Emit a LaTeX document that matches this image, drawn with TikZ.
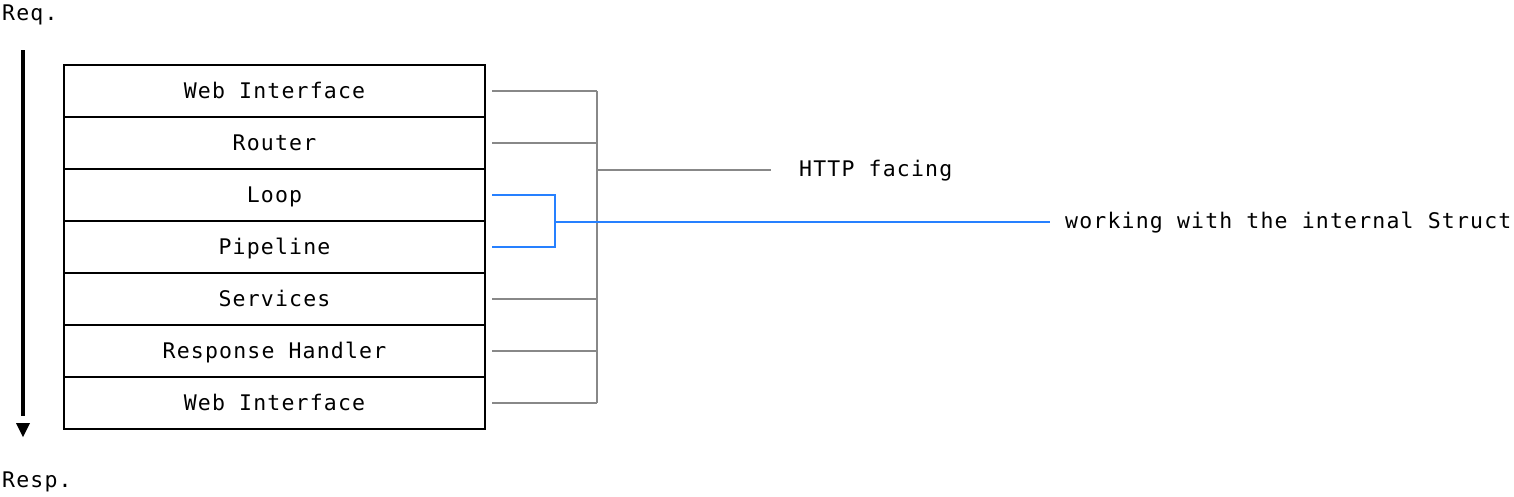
\documentclass[tikz,border=0pt]{standalone}
\usepackage{fontspec}
\newfontfamily\mono[LetterSpace=5.5]{DejaVu Sans Mono}
\definecolor{conngray}{RGB}{136,136,136}
\definecolor{connblue}{RGB}{38,128,255}
\begin{document}
\begin{tikzpicture}[x=1pt,y=-1pt,
  txt/.style={font=\mono\fontsize{21.5}{26}\selectfont, inner sep=0pt, text height=15.7pt, text depth=1.5pt},
  layer/.style={txt, draw=black, line width=1.5pt, minimum width=421pt, minimum height=52pt},
  grayconn/.style={draw=conngray, line width=2pt},
  blueconn/.style={draw=connblue, line width=2pt},
  flow/.style={line width=3.5pt}]
\useasboundingbox (0,0) rectangle (1514,496);

% layers
\node[layer] (r1) at (274.5,91)  {Web Interface};
\node[layer] (r2) at (274.5,143) {Router};
\node[layer] (r3) at (274.5,195) {Loop};
\node[layer] (r4) at (274.5,247) {Pipeline};
\node[layer] (r5) at (274.5,299) {Services};
\node[layer] (r6) at (274.5,351) {Response Handler};
\node[layer] (r7) at (274.5,403) {Web Interface};

% request/response flow
\node[txt, anchor=base west] (req) at (2,20) {Req.};
\node[txt, anchor=base west] (resp) at (2,487) {Resp.};
\coordinate (flowtop) at (23,50);
\coordinate (flowend) at (23,416);
\draw[flow] (flowtop) -- (flowend);
\fill (16,423) -- (30,423) -- (23,437) -- cycle;

% labels
\node[txt, anchor=west] (http) at (799,169.5) {HTTP facing};
\node[txt, anchor=west] (work) at (1065,221.5) {working with the internal Struct};

% gray bracket
\coordinate (bus) at (597,0);
\foreach \r in {r1,r2,r5,r6,r7}
  \draw[grayconn] ([xshift=6.5pt]\r.east) -- (bus |- \r.east);
\draw[grayconn] (bus |- r1.east) -- (bus |- r7.east);
\draw[grayconn] (bus |- r2.south) -- ([xshift=-28pt]http.west |- r2.south);

% blue bracket
\coordinate (bb) at (554.5,0);
\draw[blueconn] ([xshift=6.5pt]r3.east) -- (bb |- r3.east) -- (bb |- r4.east) -- ([xshift=6.5pt]r4.east);
\draw[blueconn] (bb |- r3.south) -- ([xshift=-15pt]work.west |- r3.south);
\end{tikzpicture}
\end{document}
